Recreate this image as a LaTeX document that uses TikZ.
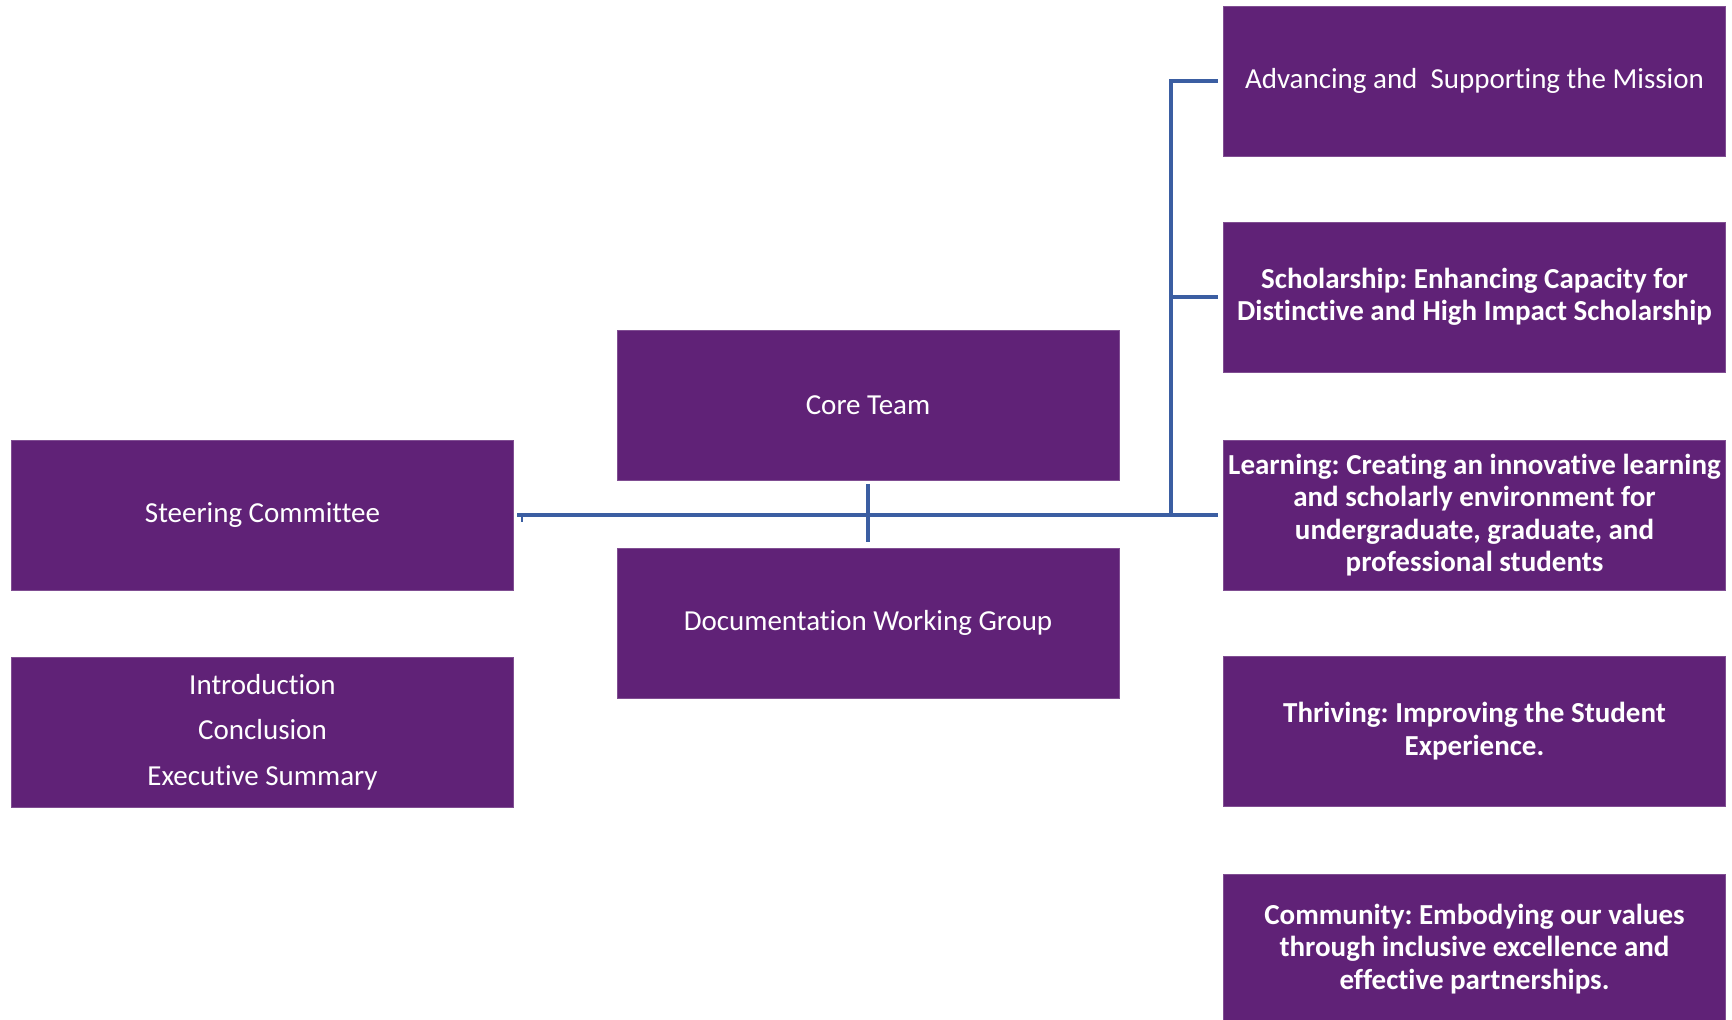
\documentclass[tikz,border=0pt]{standalone}
\usepackage{fontspec}
\setmainfont[Ligatures=NoCommon]{Carlito}
\frenchspacing
\definecolor{plum}{HTML}{602277}
\definecolor{linkblue}{HTML}{3B5EA2}

\begin{document}
\begin{tikzpicture}[x=0.02cm, y=-0.02cm,
    box/.style={fill=plum, draw=plum!80!white, line width=0.4pt, text=white,
        minimum width=10.04cm, minimum height=3cm, inner xsep=0pt, align=center,
        font=\fontsize{16.5}{18.5}\selectfont},
    goal/.style={box, font=\fontsize{16.5}{18.5}\selectfont\bfseries},
    conn/.style={draw=linkblue, line width=1.8pt}]
    \useasboundingbox (0,0) rectangle (1732,1020);

    % Nodes on the left and in the middle
    \node[box] (steer) at (262.5, 515) {Steering Committee};
    \node[box, font=\fontsize{16.5}{26}\selectfont] (intro) at (262.5, 732) {Introduction\\Conclusion\\Executive Summary};
    \node[box] (core) at (868, 405) {Core Team};
    \node[box] (doc) at (868, 623) {Documentation Working Group};

    % Nodes for the goals on the right
    \node[box] (adv) at (1474.5, 81) {Advancing and~~Supporting the Mission};
    \node[goal] (schol) at (1474.5, 297) {Scholarship: Enhancing Capacity for\\Distinctive and High Impact Scholarship};
    \node[goal] (learn) at (1474.5, 515) {Learning: Creating an innovative learning\\and scholarly environment for\\undergraduate, graduate, and\\professional students};
    \node[goal] (thrive) at (1474.5, 731) {Thriving: Improving the Student\\Experience.};
    \node[goal] (comm) at (1474.5, 949) {Community: Embodying our values\\through inclusive excellence and\\effective partnerships.};

    % Connectors
    \coordinate (bus) at (1171, 515);
    \coordinate (tick) at (522, 515);
    \draw[conn, shorten <=2pt, shorten >=3pt] (steer) -- (learn);
    \draw[conn, line width=1.2pt] (tick) -- ++(0, 7);
    \draw[conn, shorten <=2pt, shorten >=3pt] (core) -- (doc);
    \draw[conn, shorten <=3pt] (adv.west) -| (bus);
    \draw[conn, shorten <=3pt] (schol.west) -- (schol.west -| bus);
\end{tikzpicture}
\end{document}
